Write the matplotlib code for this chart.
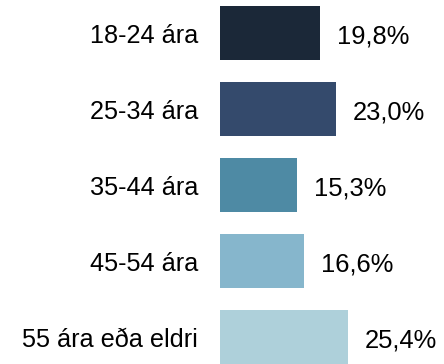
import matplotlib
matplotlib.use('Agg')
import matplotlib.pyplot as plt

AGE_GROUPS = ['18-24 ára', '25-34 ára', '35-44 ára', '45-54 ára',
              '55 ára eða eldri']
SHARES = [19.8, 23.0, 15.3, 16.6, 25.4]
COLORS = ['#1b2838', '#344a6c', '#4e8aa4', '#86b6cc', '#aed0da']

plt.rcParams['font.family'] = ['Liberation Sans', 'DejaVu Sans']

fig = plt.figure(figsize=(4.44, 3.64), dpi=100)
ax = fig.add_axes([220 / 444, 0, 1 - 220 / 444, 1])

y = list(range(len(SHARES)))
ax.barh(y, SHARES, height=0.71, color=COLORS)
ax.set_xlim(0, 224 / 5.05)
ax.set_ylim(4 + 27 / 76, -33 / 76)
ax.set_xticks([])
ax.set_yticks([])
for spine in ax.spines.values():
    spine.set_visible(False)

for pos, name, value in zip(y, AGE_GROUPS, SHARES):
    ax.annotate(name, xy=(0, pos), xytext=(-15.8, -2.2),
                textcoords='offset points', ha='right', va='center',
                fontsize=18.2, annotation_clip=False)
    ax.annotate('{:.1f}%'.format(value).replace('.', ','),
                xy=(value, pos), xytext=(12.2, -2.2),
                textcoords='offset points', ha='left', va='center',
                fontsize=18.4, annotation_clip=False)

fig.savefig('out.png', dpi=100)
